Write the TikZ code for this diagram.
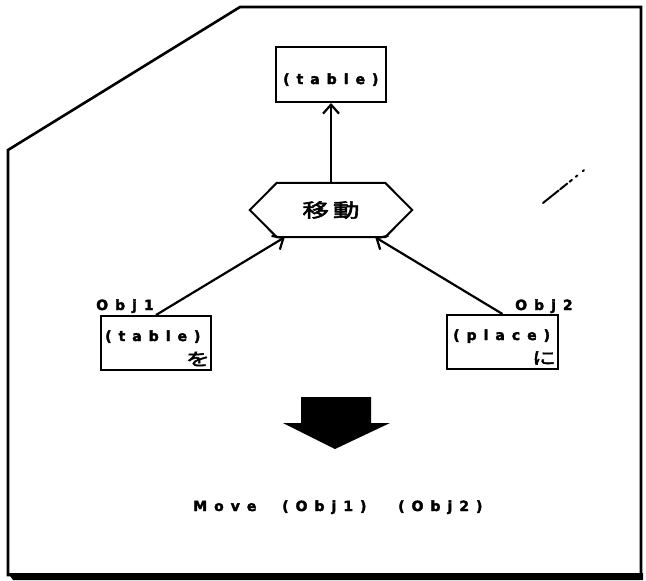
\documentclass[tikz,border=0pt]{standalone}
\usepackage{fontspec}
\usetikzlibrary{arrows.meta,calc}
\newfontfamily\spacedsans{DejaVu Sans Bold}[LetterSpace=50,FakeBold=2.5]
\newfontfamily\jpbold{Noto Sans CJK JP}[FakeBold=3,FakeStretch=1.4]
\tikzset{
  frame/.style={line width=2.6pt, line join=miter},
  boxnode/.style={draw, line width=2pt, inner sep=0pt},
  word/.style={font=\spacedsans\fontsize{14}{16}\selectfont, inner sep=0pt, anchor=base west},
  kana/.style={font=\jpbold\fontsize{17}{19}\selectfont, inner sep=0pt},
  conn/.style={line width=2.2pt, -{Straight Barb[length=9pt,width=16pt,line width=2.2pt]}},
}
\begin{document}
\begin{tikzpicture}[x=1pt,y=-1pt]
\useasboundingbox (0,0) rectangle (646,581);
% page outline with clipped upper-left corner
\draw[frame] (8,150) -- (240,7) -- (641,7) -- (641,575) -- (8,575) -- cycle;
\fill (8,573) -- (643,573) -- (643,580) -- (13,580) -- cycle;
% stray pencil stroke
\draw[line width=2pt, line cap=round, dash pattern=on 20pt off 2pt on 9pt off 3pt on 3pt off 5pt on 2pt off 7pt on 1.5pt]
  (543,203) -- (593,163);

% concept nodes
\node[boxnode, minimum width=110pt, minimum height=55pt] (top) at (331,74.5) {};
\node[word] (toptxt) at (283,84) {(table)};

\node[minimum width=108pt, minimum height=54pt, inner sep=0pt,
      font=\jpbold\fontsize{19}{21}\selectfont] (move) at (331,210) {移\hspace{4pt}動};
\draw[line width=2pt, line join=miter]
  (move.north west) -- (move.north east) -- ($(move.east)+(27,0)$)
  -- (move.south east) -- (move.south west) -- ($(move.west)+(-27,0)$) -- cycle;

\node[boxnode, minimum width=110pt, minimum height=54pt] (obj1) at (156,343) {};
\node[word] (obj1lbl) at (96,310) {Obj1};
\node[word] (obj1txt) at (105,341) {(table)};
\node[kana, anchor=east] (obj1p) at (210,359) {を};

\node[boxnode, minimum width=111pt, minimum height=54pt] (obj2) at (502.5,342) {};
\node[word] (obj2lbl) at (515,310) {Obj2};
\node[word] (obj2txt) at (453,340) {(place)};
\node[kana, anchor=east] (obj2p) at (556,358) {に};

% connectors
\draw[conn] (move.north) -- (top.south);
\draw[conn] (obj1.north) -- ($(move.south west)+(8,0)$);
\draw[conn] (obj2.north) -- ($(move.south east)+(-10,0)$);

% transformation arrow
\fill (301,397) -- (371,397) -- (371,423) -- (390,423) -- (335,449)
  -- (283,423) -- (301,423) -- cycle;

% resulting expression
\node[word] (res1) at (193,511) {Move};
\node[word] (res2) at (282,511) {(Obj1)};
\node[word] (res3) at (398,511) {(Obj2)};
\end{tikzpicture}
\end{document}
